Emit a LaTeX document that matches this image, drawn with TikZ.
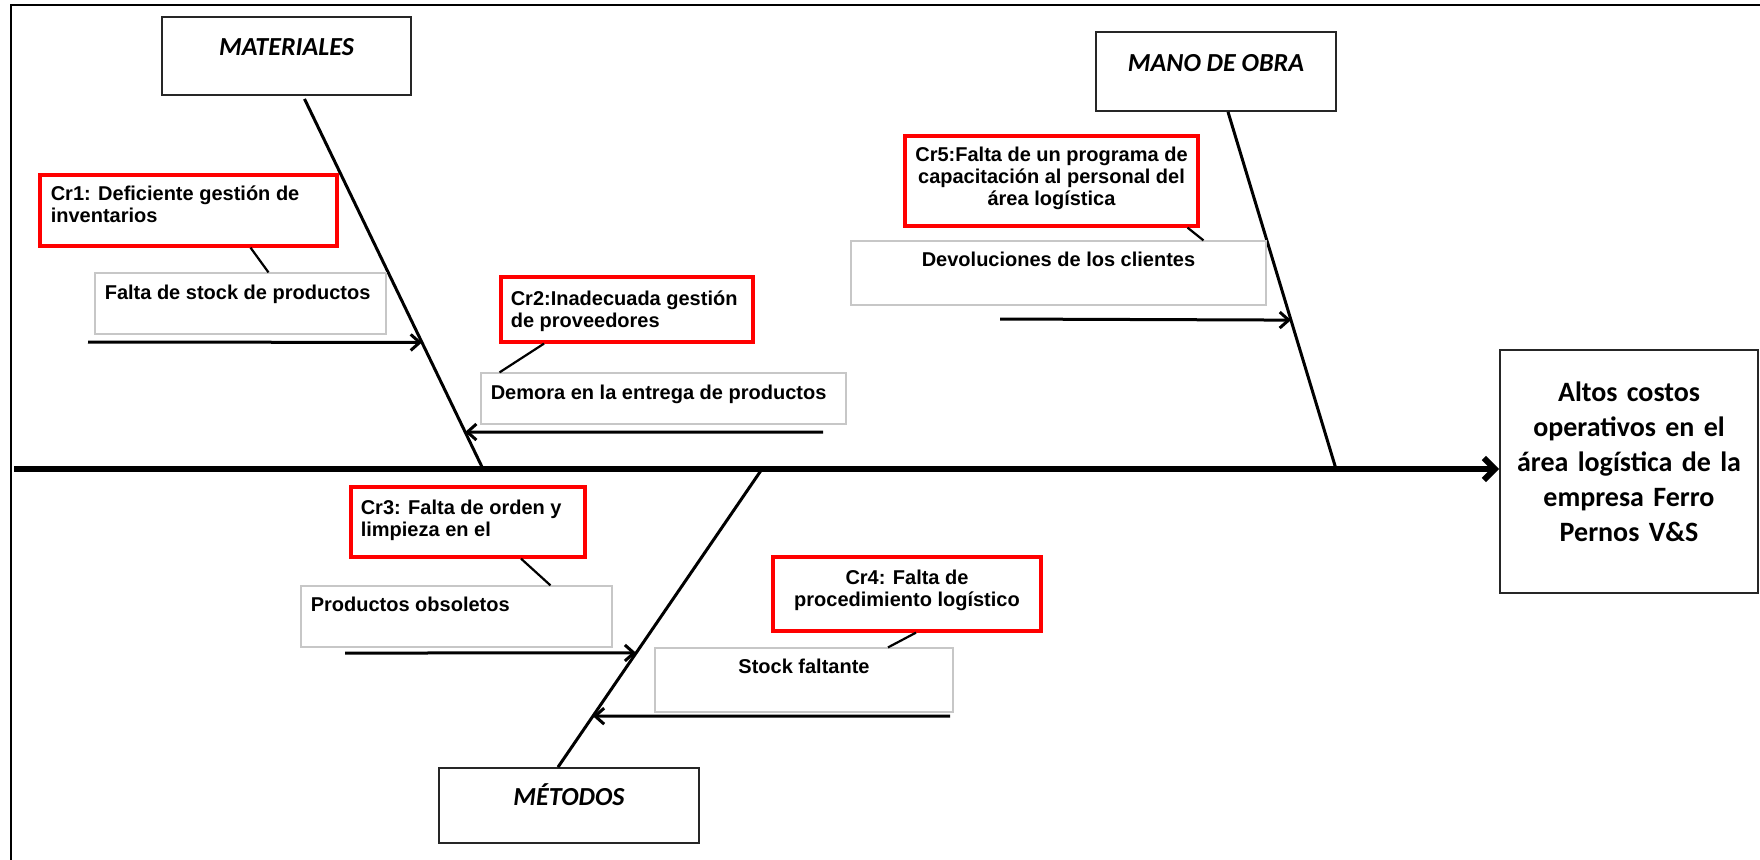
\documentclass[tikz,border=0pt]{standalone}
\usepackage{fontspec}
\setmainfont{Liberation Sans}
\newfontfamily\calibri{Carlito}
\usetikzlibrary{arrows.meta,calc,fit}

\begin{document}
\begin{tikzpicture}[x=0.5pt,y=0.5pt,yscale=-1,xscale=1,
  causa/.style={draw={rgb,255:red,255;green,0;blue,0}, line width=1.6pt, fill=white, inner sep=0pt},
  subcausa/.style={draw=black!22, line width=0.6pt, fill=white, inner sep=0pt},
  categoria/.style={draw=black!85, line width=0.9pt, fill=white, inner sep=0pt, font=\calibri\bfseries\itshape\fontsize{13}{15}\selectfont},
  texto/.style={inner sep=0pt, font=\bfseries\fontsize{10}{11}\selectfont},
  espina/.style={line width=1.5pt},
  flecha/.style={line width=1.5pt, -{Straight Barb[length=4.5pt,width=8pt]}},
  enlace/.style={line width=1.1pt}
]
\useasboundingbox (0,0) rectangle (1760,859);

%Frame
\draw [line width=1pt] (11,5) rectangle (1790,890) ;

% Category Nodes
\node [categoria, fit={(162,17) (411,95)}] (mat) {MATERIALES};
\node [categoria, fit={(1096,32) (1336,111)}] (mano) {MANO DE OBRA};
\node [categoria, fit={(439,768) (699,843)}] (met) {MÉTODOS};
% Effect Node
\node [categoria, fit={(1500,350) (1758,593)}, align=center, font=\calibri\bfseries\fontsize{14}{17.5}\selectfont] (efecto) {Altos costos\\operativos en el\\área logística de la\\empresa Ferro\\Pernos V\&S};

%Main Line
\coordinate (cola) at (14,469);
\draw [line width=3pt, -{Straight Barb[length=5.5pt,width=11pt]}] (cola) -- (cola -| efecto.west) ;

%Bones
\coordinate (m1) at ($(mat.south)+(18,3)$);
\coordinate (b1) at (483,469);
\draw [espina] (m1) -- (b1) ;
\coordinate (m2) at ($(mano.south)+(12,0)$);
\coordinate (b2) at (1336,469);
\draw [espina] (m2) -- (b2) ;
\coordinate (m3) at ($(met.north)+(-11,0)$);
\coordinate (b3) at (762,469);
\draw [espina] (b3) -- (m3) ;

% Cause Boxes
\node [causa, fit={(40,175) (337,246)}] (cr1) {};
\node [subcausa, fit={(95,273) (386,334)}] (falta) {};
\node [causa, fit={(501,277) (753,342)}] (cr2) {};
\node [subcausa, fit={(481,373) (846,424)}] (demora) {};
\node [causa, fit={(905,136) (1198,226)}] (cr5) {};
\node [subcausa, fit={(851,241) (1266,305)}] (devol) {};
\node [causa, fit={(351,487) (585,557)}] (cr3) {};
\node [subcausa, fit={(301,586) (612,647)}] (prod) {};
\node [causa, fit={(773,557) (1041,631)}] (cr4) {};
\node [subcausa, fit={(655,648) (953,712)}] (stock) {};

% Text Node
\node [texto, anchor=north west, align=left] (tcr1) at ($(cr1.north west)+(12,12)$) {Cr1: Deficiente gestión de\\inventarios};
% Text Node
\node [texto, anchor=north west, align=left] (tfalta) at ($(falta.north west)+(10,12)$) {Falta de stock de productos};
% Text Node
\node [texto, anchor=north west, align=left] (tcr2) at ($(cr2.north west)+(11,15)$) {Cr2:Inadecuada gestión\\de proveedores};
% Text Node
\node [texto, anchor=north west, align=left] (tdemora) at ($(demora.north west)+(10,12)$) {Demora en la entrega de productos};
% Text Node
\node [texto, anchor=north, align=center] (tcr5) at ($(cr5.north)+(0,12)$) {Cr5:Falta de un programa de\\capacitación al personal del\\área logística};
% Text Node
\node [texto, anchor=north, align=center] (tdevol) at ($(devol.north)+(0,11)$) {Devoluciones de los clientes};
% Text Node
\node [texto, anchor=north west, align=left] (tcr3) at ($(cr3.north west)+(11,14)$) {Cr3: Falta de orden y\\limpieza en el};
% Text Node
\node [texto, anchor=north west, align=left] (tprod) at ($(prod.north west)+(10,11)$) {Productos obsoletos};
% Text Node
\node [texto, anchor=north, align=center] (tcr4) at ($(cr4.north)+(0,14)$) {Cr4: Falta de\\procedimiento logístico};
% Text Node
\node [texto, anchor=north, align=center] (tstock) at ($(stock.north)+(0,11)$) {Stock faltante};

%Links
\draw [enlace] ($(cr1.south)+(62,0)$) -- ($(falta.north)+(28,0)$) ;
\draw [enlace] ($(cr2.south)+(-83,0)$) -- ($(demora.north)+(-164,0)$) ;
\draw [enlace] ($(cr5.south)+(136,0)$) -- ($(devol.north)+(145,0)$) ;
\draw [enlace] ($(cr3.south)+(53,0)$) -- ($(prod.north)+(94,0)$) ;
\draw [enlace] ($(cr4.south)+(9,0)$) -- ($(stock.north)+(84,0)$) ;

%Arrows
\coordinate (s1) at (88,342);
\draw [flecha] (s1) -- ($(m1)!0.658!(b1)$) ;
\coordinate (s2) at (823,432);
\draw [flecha] (s2) -- ($(m1)!0.900!(b1)$) ;
\coordinate (s5) at (1000,319);
\draw [flecha] (s5) -- ($(m2)!0.583!(b2)$) ;
\coordinate (s3) at (345,653);
\draw [flecha] (s3) -- ($(b3)!0.617!(m3)$) ;
\coordinate (s4) at (950,716);
\draw [flecha] (s4) -- ($(b3)!0.829!(m3)$) ;

\end{tikzpicture}
\end{document}
